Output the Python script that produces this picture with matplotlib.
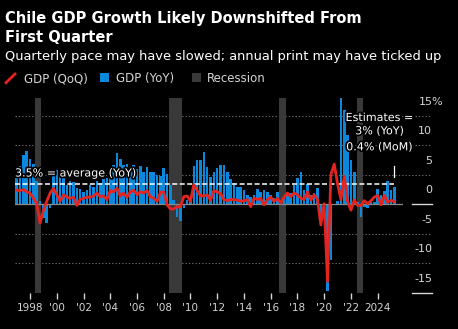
import numpy as np
import matplotlib
matplotlib.use("Agg")
import matplotlib.pyplot as plt
from matplotlib.lines import Line2D
from matplotlib.patches import Rectangle
import matplotlib.patheffects as pe
import matplotlib.transforms as mtransforms

# ---- data -------------------------------------------------------------
start_year = 1997  # first quarter of the series

gdp_yoy = [
    4.5, 6.5, 8.4, 9.0,      # 1997
    7.6, 6.9, 4.0, 0.5,      # 1998
    -2.4, -3.2, -0.7, 4.8,   # 1999
    5.8, 5.5, 4.5, 3.3,      # 2000
    3.9, 3.7, 2.8, 2.6,      # 2001
    2.0, 2.4, 3.3, 3.0,      # 2002
    4.0, 3.6, 4.2, 4.4,      # 2003
    5.4, 6.6, 8.6, 7.6,      # 2004
    6.6, 6.8, 5.9, 6.6,      # 2005
    6.0, 6.4, 5.5, 6.3,      # 2006
    5.5, 5.5, 5.0, 4.8,      # 2007
    6.1, 5.1, 3.3, 0.8,      # 2008
    -2.2, -2.8, -0.7, 0.8,   # 2009
    1.0, 6.5, 7.5, 7.5,      # 2010
    8.8, 6.3, 4.6, 5.5,      # 2011
    6.1, 6.6, 6.7, 5.5,      # 2012
    4.2, 3.6, 3.0, 2.9,      # 2013
    2.4, 1.6, 1.3, 1.6,      # 2014
    2.5, 2.1, 2.4, 2.0,      # 2015
    1.6, 1.0, 2.1, 0.5,      # 2016
    1.0, 1.6, 1.9, 3.3,      # 2017
    4.4, 5.4, 2.4, 3.4,      # 2018
    1.6, 1.9, 2.7, -2.1,     # 2019
    0.2, -14.7, -9.5, 0.1,   # 2020
    0.6, 18.1, 16.0, 11.8,   # 2021
    7.5, 5.5, 0.3, -2.1,     # 2022
    -0.4, -0.6, 0.5, 0.4,    # 2023
    2.6, 1.6, 2.3, 4.0,      # 2024
    2.4, 3.0,                # 2025
]

gdp_qoq = [
    2.4, 2.3, 2.5, 2.1,      # 1997
    1.9, 1.0, 0.1, -3.2,     # 1998
    -1.0, 0.5, 1.9, 2.7,     # 1999
    1.6, 0.5, 1.6, 1.2,      # 2000
    1.0, 1.2, -0.2, 0.8,     # 2001
    1.0, 1.2, 1.2, 1.4,      # 2002
    1.9, 1.3, 1.4, 0.8,      # 2003
    2.3, 2.1, 2.7, 1.4,      # 2004
    1.9, 1.2, 2.1, 2.4,      # 2005
    1.6, 2.1, 1.9, 2.3,      # 2006
    1.3, 1.0, 0.5, 2.0,      # 2007
    2.1, -0.1, -0.8, -0.8,   # 2008
    -0.4, -0.4, 1.3, 1.4,    # 2009
    0.5, 3.3, 2.3, 1.4,      # 2010
    1.4, 1.6, 0.7, 2.3,      # 2011
    2.1, 1.8, 0.8, 0.6,      # 2012
    0.8, 0.8, 0.7, 0.5,      # 2013
    0.6, 0.8, -0.4, 1.0,     # 2014
    0.8, 1.0, -0.1, 0.8,     # 2015
    1.2, 0.5, 1.0, 0.2,      # 2016
    1.2, 1.9, 1.3, 1.9,      # 2017
    1.6, 1.0, 0.8, 2.1,      # 2018
    0.7, 1.6, 0.8, -3.5,     # 2019
    0.1, -13.1, 5.0, 6.8,    # 2020
    3.5, 0.8, 4.7, 0.5,      # 2021
    -1.0, 0.7, -0.2, -0.2,   # 2022
    0.6, 0.1, 0.6, 1.2,      # 2023
    1.5, -0.1, 1.5, 0.3,     # 2024
    0.7, 0.4,                # 2025
]

recessions = [(1998.37, 1998.85), (2008.42, 2009.37),
              (2016.65, 2017.12), (2022.43, 2022.90)]

avg_yoy = 3.5
est_yoy = 3
est_qoq = 0.4

tick_years = list(range(1998, 2025, 2))
tick_labels = ["1998", "'00", "'02", "'04", "'06", "'08", "'10", "'12",
               "'14", "'16", "'18", "'20", "'22", "2024"]
y_ticks = [15, 10, 5, 0, -5, -10, -15]

# ---- styling ----------------------------------------------------------
W, H, DPI = 458, 329, 100
BLUE = "#0a88dc"
RED = "#e5231f"
SHADE = "#393939"
GRID = "#6a6a6a"
LIGHT = "#d6d6d6"

dates = start_year + np.arange(len(gdp_yoy)) / 4


def fx(px):
    return px / W


def fy(py):
    return 1 - py / H


fig = plt.figure(figsize=(W / DPI, H / DPI), dpi=DPI, facecolor="black")

ax_l, ax_r, ax_t, ax_b = 15, 403, 98, 292.8
px_per_year = 13.37
ax = fig.add_axes([fx(ax_l), fy(ax_b), (ax_r - ax_l) / W, (ax_b - ax_t) / H])
ax.set_facecolor("black")
x0 = start_year - 0.125
ax.set_xlim(x0, x0 + (ax_r - ax_l) / px_per_year)
ax.set_ylim(-15, 18)
for s in ax.spines.values():
    s.set_visible(False)

# recession shading
for a, b in recessions:
    ax.axvspan(a, b, color=SHADE, lw=0, zorder=1)

# dotted gridlines reaching under the right-hand labels
grid_xmax = (431 - ax_l) / (ax_r - ax_l)
for v in y_ticks:
    if v in (0, -15):
        continue
    ax.axhline(v, xmin=0, xmax=grid_xmax, color=GRID, lw=0.8,
               dashes=(1.2, 1.8), clip_on=False, zorder=0.5)

# bars and line
ax.bar(dates, gdp_yoy, width=0.19, color=BLUE, lw=0, zorder=2)
ax.axhline(0, color="#8a8a8a", lw=0.9, zorder=2.5)
ax.plot([x0, 2025.2], [avg_yoy, avg_yoy], color="white", lw=1.1,
        dashes=(3.3, 1.6), zorder=3)
ax.plot(dates, gdp_qoq, color=RED, lw=2.0, zorder=4,
        solid_joinstyle="round", solid_capstyle="round")

# short rules under the 0 and -15 labels
lab_xmin = (412 - ax_l) / (ax_r - ax_l)
lab_xmax = (432 - ax_l) / (ax_r - ax_l)
for v in (0, -15):
    ax.axhline(v, xmin=lab_xmin, xmax=lab_xmax, color=LIGHT, lw=1,
               clip_on=False, zorder=3)

# right-hand value labels sitting above their gridlines
blend = mtransforms.blended_transform_factory(fig.transFigure, ax.transData)
lab_trans = mtransforms.offset_copy(blend, fig=fig, x=0, y=14, units="dots")
for v in y_ticks:
    if v == max(y_ticks):
        ax.text(fx(418.5), v, f"{v}%", transform=lab_trans, ha="left",
                va="center", fontsize=8, color=LIGHT)
    else:
        ax.text(fx(432), v, f"{v}", transform=lab_trans, ha="right",
                va="center", fontsize=8, color=LIGHT)

# x axis
ax.set_yticks([])
ax.set_xticks(tick_years)
ax.set_xticklabels(tick_labels)
ax.tick_params(axis="x", colors=LIGHT, length=4.5, width=1.0, pad=3,
               labelsize=7.5)

# annotations
halo = [pe.withStroke(linewidth=2.5, foreground="black")]
fig.text(fx(15), fy(173.5), f"{avg_yoy}% = average (YoY)", fontsize=8,
         color="white", ha="left", va="center", path_effects=halo, zorder=6)
for line, ypx in [("Estimates =", 118), (f"{est_yoy}% (YoY)", 131.3),
                  (f"{est_qoq}% (MoM)", 147.3)]:
    fig.text(fx(379.5), fy(ypx), line, fontsize=8, color="white",
             ha="center", va="center", path_effects=halo, zorder=6)
ax.plot([dates[-1], dates[-1]], [4.6, 6.5], color="white", lw=0.9, zorder=5)

# titles
fig.text(fx(5), fy(22.7), "Chile GDP Growth Likely Downshifted From",
         fontsize=10.5, weight="bold", color="white", va="baseline")
fig.text(fx(5), fy(41.7), "First Quarter",
         fontsize=10.5, weight="bold", color="white", va="baseline")
fig.text(fx(5), fy(60),
         "Quarterly pace may have slowed; annual print may have ticked up",
         fontsize=9.4, color="white", va="baseline")

# legend
fig.add_artist(Line2D([fx(6), fx(15)], [fy(82.7), fy(74)],
                      transform=fig.transFigure, color=RED, lw=2))
fig.text(fx(23.5), fy(82), "GDP (QoQ)", fontsize=8.5, color=LIGHT,
         va="baseline")
fig.add_artist(Rectangle((fx(100), fy(82)), 9 / W, 9 / H,
                         transform=fig.transFigure, color=BLUE, lw=0))
fig.text(fx(116), fy(82), "GDP (YoY)", fontsize=8.5, color=LIGHT,
         va="baseline")
fig.add_artist(Rectangle((fx(191.7), fy(82)), 9 / W, 9 / H,
                         transform=fig.transFigure, color=SHADE, lw=0))
fig.text(fx(207.3), fy(82), "Recession", fontsize=8.5, color=LIGHT,
         va="baseline")

fig.savefig("out.png", dpi=DPI, facecolor="black")
